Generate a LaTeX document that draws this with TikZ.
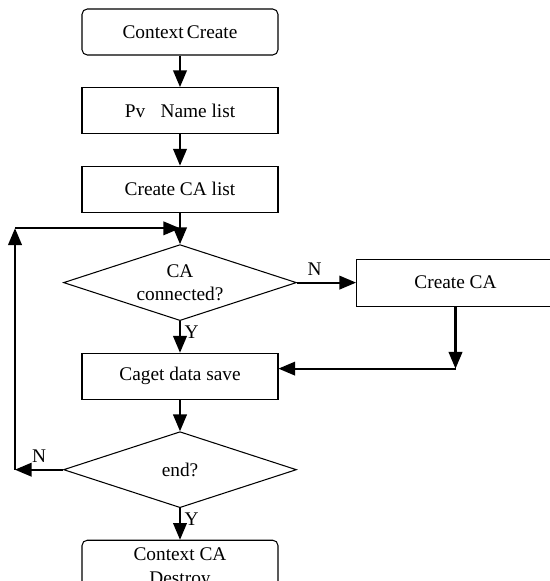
\documentclass[tikz,border=0pt]{standalone}
\usepackage{fontspec}
\setmainfont{Liberation Serif}
\usepackage{tikz}
\usetikzlibrary{arrows}
\usetikzlibrary{shapes.geometric}
\tikzstyle{block} = [draw,rectangle,semithick,minimum height=0.92cm,minimum width=3.92cm]
\tikzstyle{terminal} = [block,rounded corners=3pt,align=center]
\tikzstyle{decision} = [draw,diamond,semithick,aspect=3,inner sep=0pt,minimum width=4.66cm,minimum height=1.52cm,align=center]
\tikzstyle{connector} = [->,>=triangle 45,line width=1.2pt]
\usetikzlibrary{positioning, calc}

\begin{document}
\begin{tikzpicture}[x=0.02cm,y=0.02cm,node distance=0.63cm]
	\fontsize{11}{13.5}\selectfont
	\useasboundingbox (0,0) rectangle (550,581);

	  \node[terminal] (ctxcreate) at (180,549) {Context\,Create};

	  \node[block, below = of ctxcreate] (pvlist) {Pv\hspace{0.8em}Name list};

	  \node[block, below = of pvlist] (calist) {Create CA list};

	  \node[decision, below = of calist] (connected) {CA\\connected?};

	  \node[block, right = 1.18cm of connected, minimum width=3.96cm, minimum height=0.94cm] (createca) {Create CA};

	  \node[block, below = of connected] (caget) {Caget data save};

	  \node[decision, below = of caget] (isend) {end?};

	  \node[terminal, below = of isend, inner sep=4.5pt] (destroy) {Context CA\\Destroy};

	% helper points for the bent lines
	  \coordinate[below = 1.24cm of createca.south] (caturn);
	  \coordinate[left = 0.96cm of isend.west] (nturn);
	  \coordinate (ljoin) at ($(calist.south)!0.5!(connected.north)$);

	% now link the nodes

	\draw [connector] (ctxcreate) -- (pvlist);
	\draw [connector] (pvlist) -- (calist);
	\draw [connector] (calist) -- (connected);
	\draw [connector] (connected) -- node[right, pos=0.35, inner sep=2pt] {Y} (caget);
	\draw [connector] (connected) -- node[above, pos=0.3] {N} (createca);
	\draw [connector] (createca) -- (caturn);
	\draw [connector] (caturn) -- (caturn -| caget.east);
	\draw [connector] (caget) -- (isend);
	\draw [connector] (isend) -- node[right, pos=0.35, inner sep=2pt] {Y} (destroy);
	\draw [connector] (isend.west) -- node[above] {N} (nturn);
	\draw [connector] (nturn) -- (nturn |- ljoin);
	\draw [connector] (nturn |- ljoin) -- (ljoin);

  \end{tikzpicture}
\end{document}
